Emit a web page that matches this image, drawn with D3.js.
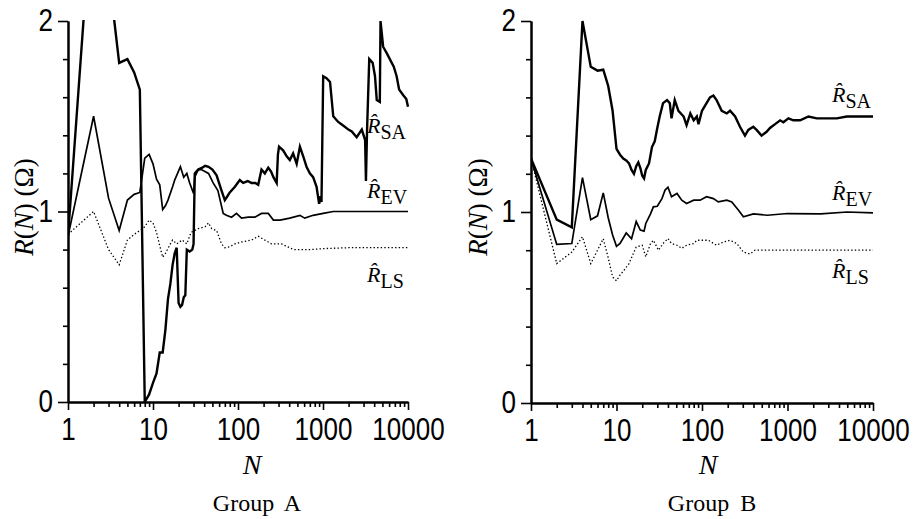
<!DOCTYPE html>
<html>
<head>
<meta charset="utf-8">
<script src="https://cdnjs.cloudflare.com/ajax/libs/d3/7.8.5/d3.min.js"></script>
<style>
    body { margin: 0; background: #fff; }
    svg { display: block; }
</style>
</head>
<body>
<svg width="914" height="519"></svg>
<script>
// values: [N, R(N)]
var groupA_SA = [[1, 0.87], [2, 2.74], [3, 2.26], [4, 1.78], [5, 1.80], [6, 1.73], [7, 1.64], [8, 0.0], [9, 0.04],
    [10, 0.10], [11, 0.15], [12, 0.26], [13, 0.26], [14, 0.38], [15, 0.54], [16, 0.62], [17, 0.72], [18, 0.78],
    [19, 0.81], [20, 0.52], [21, 0.50], [22, 0.51], [23, 0.55], [24, 0.56], [25, 0.80], [27, 0.79], [29, 0.80],
    [30, 0.83], [31, 1.20], [34, 1.22], [38, 1.23], [41, 1.24], [45, 1.235], [50, 1.22], [56, 1.19], [64, 1.11],
    [70, 1.06], [75, 1.08], [80, 1.10], [92, 1.13], [105, 1.165], [115, 1.15], [130, 1.16], [144, 1.15],
    [160, 1.15], [173, 1.14], [189, 1.22], [207, 1.20], [227, 1.23], [245, 1.21], [261, 1.18], [285, 1.15],
    [295, 1.30], [304, 1.34], [341, 1.32], [374, 1.29], [407, 1.27], [445, 1.305], [490, 1.25], [535, 1.34],
    [585, 1.29], [640, 1.235], [700, 1.20], [765, 1.18], [840, 1.13], [900, 1.04], [935, 1.08], [960, 1.05],
    [1005, 1.71], [1100, 1.70], [1210, 1.68], [1320, 1.50], [1510, 1.47], [1740, 1.45], [1990, 1.43],
    [2180, 1.42], [2490, 1.39], [2860, 1.43], [3130, 1.375], [3200, 1.16], [3300, 1.43], [3500, 1.80],
    [3840, 1.78], [4090, 1.71], [4290, 1.585], [4660, 1.575], [4750, 2.0], [5100, 1.865], [5640, 1.83],
    [6800, 1.76], [7350, 1.71], [7860, 1.64], [8800, 1.61], [9550, 1.59], [10000, 1.55]];

var groupA_EV = [[1, 0.87], [2, 1.50], [3, 1.07], [4, 0.90], [5, 1.06], [6, 1.09], [7, 1.10], [8, 1.28], [9, 1.30],
    [10, 1.25], [11, 1.17], [12, 1.14], [13, 1.01], [14, 1.03], [15, 1.06], [17, 1.13], [18, 1.165], [21, 1.235],
    [23, 1.18], [25, 1.20], [27, 1.15], [30, 1.095], [31, 1.18], [34, 1.22], [37, 1.22], [45, 1.20], [51, 1.15],
    [58, 1.11], [67, 0.99], [73, 0.98], [84, 0.97], [96, 0.99], [110, 0.965], [132, 0.97], [158, 0.97],
    [189, 0.99], [227, 0.99], [261, 0.955], [312, 0.955], [407, 0.965], [535, 0.98], [610, 0.965], [765, 0.98],
    [1005, 0.99], [1320, 1.0], [1900, 1.0], [3250, 1.0], [4660, 1.0], [10000, 1.0]];

var groupA_LS = [[1, 0.88], [2, 1.0], [3, 0.80], [4, 0.72], [5, 0.85], [6, 0.88], [7, 0.90], [8, 0.92], [9, 0.955],
    [10, 0.94], [11, 0.89], [12, 0.82], [13, 0.76], [14, 0.78], [16, 0.83], [17, 0.85], [19, 0.83], [22, 0.85],
    [25, 0.83], [28, 0.89], [34, 0.91], [41, 0.92], [45, 0.94], [49, 0.91], [56, 0.90], [64, 0.83], [70, 0.81],
    [80, 0.815], [92, 0.83], [110, 0.84], [145, 0.85], [173, 0.87], [207, 0.85], [248, 0.83], [325, 0.83],
    [450, 0.80], [700, 0.80], [1000, 0.805], [2000, 0.81], [4000, 0.81], [10000, 0.81]];

var groupB_SA = [[1, 1.28], [2, 0.96], [3, 0.92], [4, 2.0], [5, 1.76], [6, 1.74], [7, 1.745], [8, 1.66], [9, 1.53],
    [10, 1.33], [11, 1.30], [12, 1.28], [13, 1.27], [14, 1.255], [15, 1.22], [16, 1.20], [17, 1.24], [18, 1.26],
    [19, 1.23], [20, 1.19], [21, 1.176], [22, 1.22], [24, 1.254], [26, 1.34], [28, 1.37], [30, 1.44], [32, 1.50],
    [35, 1.57], [39, 1.586], [42, 1.57], [44, 1.49], [48, 1.586], [53, 1.53], [61, 1.50], [66, 1.455],
    [73, 1.516], [80, 1.48], [87, 1.50], [91, 1.46], [100, 1.53], [113, 1.57], [124, 1.60], [136, 1.61],
    [148, 1.586], [170, 1.53], [195, 1.516], [213, 1.53], [244, 1.50], [278, 1.446], [318, 1.40], [348, 1.43],
    [398, 1.446], [435, 1.43], [497, 1.40], [570, 1.42], [624, 1.44], [716, 1.46], [820, 1.48], [895, 1.47],
    [1025, 1.49], [1170, 1.48], [1405, 1.48], [1760, 1.50], [2200, 1.49], [2880, 1.49], [3770, 1.49],
    [4930, 1.50], [6440, 1.50], [8420, 1.50], [10000, 1.50]];

var groupB_EV = [[1, 1.28], [2, 0.83], [3, 0.835], [4, 1.18], [5, 0.96], [6, 0.98], [7, 1.10], [8, 0.97], [9, 0.88],
    [10, 0.82], [11, 0.835], [13, 0.89], [15, 0.86], [17, 0.95], [19, 0.905], [21, 0.90], [22, 0.94], [25, 0.99],
    [27, 1.027], [30, 1.03], [34, 1.07], [37, 1.115], [40, 1.13], [44, 1.08], [51, 1.097], [58, 1.062],
    [66, 1.045], [80, 1.062], [95, 1.062], [113, 1.08], [136, 1.07], [155, 1.053], [195, 1.062], [223, 1.053],
    [266, 1.01], [305, 0.975], [400, 0.99], [580, 0.983], [1000, 0.992], [2450, 0.99], [5000, 1.0], [10000, 0.995]];

var groupB_LS = [[1, 1.28], [2, 0.73], [3, 0.79], [4, 0.87], [5, 0.73], [6, 0.80], [7, 0.86], [8, 0.76], [9, 0.66],
    [10, 0.64], [11, 0.67], [12, 0.69], [14, 0.73], [17, 0.817], [20, 0.826], [22, 0.765], [25, 0.835],
    [27, 0.852], [31, 0.80], [35, 0.835], [40, 0.861], [44, 0.835], [51, 0.826], [58, 0.81], [66, 0.826],
    [80, 0.835], [87, 0.852], [100, 0.852], [119, 0.852], [148, 0.826], [178, 0.843], [213, 0.852], [255, 0.835],
    [305, 0.79], [364, 0.78], [417, 0.80], [600, 0.80], [1000, 0.80], [3000, 0.80], [10000, 0.80]];

var yTickValues = [0, 1, 2];
var yMinorValues = [0.2, 0.4, 0.6, 0.8, 1.2, 1.4, 1.6, 1.8];
var xTickValues = [1, 10, 100, 1000, 10000];
var seriesNames = ['SA', 'EV', 'LS'];
var groupNames = ['Group A', 'Group B'];

d3.select(window).on('load', init);

function init() {

    var svg = d3.select('svg');
    var sansFont = '"Liberation Sans", Arial, sans-serif';
    var serifFont = '"Liberation Serif", "Times New Roman", serif';

    var panels = [
        {name: groupNames[0], series: [groupA_SA, groupA_EV, groupA_LS],
            left: 68, right: 408, bottom: 402, top: 21, nX: 252, groupX: 257, titleX: 33,
            labelY: [133, 198, 282]},
        {name: groupNames[1], series: [groupB_SA, groupB_EV, groupB_LS],
            left: 531, right: 873, bottom: 403, top: 21, nX: 708, groupX: 712, titleX: 487,
            labelY: [102, 200, 278]}
    ];

    // line styles for SA, EV, LS
    var styles = [
        {width: 2.4, dash: null},
        {width: 1.7, dash: null},
        {width: 1.3, dash: '1.4,2.2'}
    ];

    panels.forEach(function (p, pi) {

        var xScale = d3.scaleLog()
            .domain([1, 10000])
            .range([p.left, p.right]);

        var yScale = d3.scaleLinear()
            .domain([0, 2])
            .range([p.bottom, p.top]);

        var g = svg.append('g');

        g.append('clipPath')
            .attr('id', 'clip' + pi)
            .append('rect')
            .attr('x', p.left)
            .attr('y', p.top - 1)
            .attr('width', p.right - p.left + 4)
            .attr('height', p.bottom - p.top + 1);

        var line = d3.line()
            .x(function (d) { return xScale(d[0]); })
            .y(function (d) { return yScale(d[1]); });

        p.series.forEach(function (s, si) {
            g.append('path')
                .datum(s)
                .attr('clip-path', 'url(#clip' + pi + ')')
                .attr('fill', 'none')
                .attr('stroke', '#000')
                .attr('stroke-width', styles[si].width)
                .attr('stroke-dasharray', styles[si].dash)
                .attr('d', line);
        });

        // minor x ticks
        var minorX = [];
        for (var e = 1; e < 10000; e *= 10) {
            for (var m = 2; m < 10; m++) minorX.push(e * m);
        }

        g.append('g')
            .attr('transform', 'translate(0,' + p.bottom + ')')
            .call(d3.axisBottom(xScale).tickValues(minorX).tickSize(5).tickSizeOuter(0).tickFormat(''))
            .call(styleAxis);

        g.append('g')
            .attr('transform', 'translate(0,' + p.bottom + ')')
            .call(d3.axisBottom(xScale).tickValues(xTickValues).tickSize(8).tickSizeOuter(0).tickPadding(8)
                .tickFormat(d3.format('d')))
            .call(styleAxis);

        g.append('g')
            .attr('transform', 'translate(' + p.left + ',0)')
            .call(d3.axisLeft(yScale).tickValues(yMinorValues).tickSize(5).tickSizeOuter(0).tickFormat(''))
            .call(styleAxis);

        g.append('g')
            .attr('transform', 'translate(' + p.left + ',0)')
            .call(d3.axisLeft(yScale).tickValues(yTickValues).tickSize(10).tickSizeOuter(0).tickPadding(8)
                .tickFormat(d3.format('d')))
            .call(styleAxis);

        function styleAxis(sel) {
            sel.select('.domain').attr('stroke-width', 2);
            sel.selectAll('.tick line').attr('stroke-width', 1.6);
            // the original digits are narrow: squeeze them horizontally
            sel.selectAll('.tick text')
                .attr('font-family', sansFont)
                .attr('font-size', 31)
                .attr('transform', 'scale(0.84,1)')
                .attr('fill', '#000');
        }

        // y axis title
        var yt = g.append('text')
            .attr('transform', 'translate(' + p.titleX + ',' + 207 + ') rotate(-90)')
            .attr('text-anchor', 'middle')
            .attr('font-family', serifFont)
            .attr('font-size', 27);
        yt.append('tspan').attr('font-style', 'italic').text('R');
        yt.append('tspan').text('(');
        yt.append('tspan').attr('font-style', 'italic').text('N');
        yt.append('tspan').text(') (Ω)');

        // x axis title
        g.append('text')
            .attr('x', p.nX)
            .attr('y', 474)
            .attr('text-anchor', 'middle')
            .attr('font-family', serifFont)
            .attr('font-style', 'italic')
            .attr('font-size', 28)
            .text('N');

        g.append('text')
            .attr('x', p.groupX)
            .attr('y', 511)
            .attr('text-anchor', 'middle')
            .attr('font-family', serifFont)
            .attr('font-size', 24)
            .attr('word-spacing', 5)
            .text(p.name);

        // curve labels, R with a hat and a subscript
        seriesNames.forEach(function (name, si) {
            var t = g.append('text')
                .attr('x', p.right - 41)
                .attr('y', p.labelY[si])
                .attr('font-family', serifFont)
                .attr('font-size', 22);
            t.append('tspan').attr('font-style', 'italic').text('R\u0302');
            t.append('tspan').attr('dy', 6).attr('font-size', 20).text(name);
        });
    });
}
</script>
</body>
</html>
